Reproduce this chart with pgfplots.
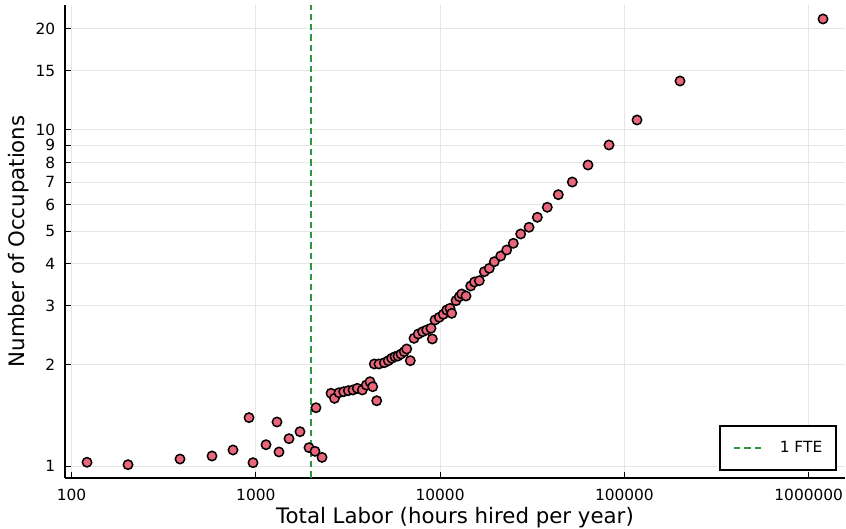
\documentclass[border=0pt]{standalone}
\usepackage{fontspec}
\setmainfont{DejaVu Sans}
\usepackage{pgfplots}
\pgfplotsset{compat=1.18}

\definecolor{dotred}{RGB}{233,102,123}
\definecolor{ftegreen}{RGB}{46,150,62}
\definecolor{gridgray}{RGB}{230,230,230}

\begin{document}
\begin{tikzpicture}
\begin{axis}[
  name=ax,
  scale only axis,
  width=390bp, height=236.35bp,
  xmode=log, ymode=log,
  xmin=92.2, xmax=1.574e6,
  ymin=0.923, ymax=23.55,
  axis x line*=bottom, axis y line*=left,
  axis line style={line width=1bp, black},
  xtick={100,1000,10000,100000,1000000},
  xticklabels={100,1000,10000,100000,1000000},
  ytick={1,2,3,4,5,6,7,8,9,10,15,20},
  yticklabels={1,2,3,4,5,6,7,8,9,10,15,20},
  xminorticks=false, yminorticks=false,
  tick align=inside,
  major tick length=3bp,
  tick style={line width=0.5bp, black},
  grid=major,
  major grid style={line width=0.5bp, gridgray},
  /pgf/number format/assume math mode=true,
  tick label style={font=\fontsize{7.7bp}{9bp}\selectfont},
  xticklabel style={yshift=-2.3bp},
  yticklabel style={xshift=-1.4bp},
  label style={font=\fontsize{10.65bp}{12bp}\selectfont},
  xlabel={Total Labor (hours hired per year)},
  ylabel={Number of Occupations},
  xlabel style={at={(axis description cs:0.5,0)}, anchor=base, yshift=-22.65bp},
  ylabel style={at={(axis description cs:-0.0513,0.5)}, anchor=base},
  legend style={at={(axis description cs:0.9897,0.0142)}, anchor=south east,
    draw=black, line width=0.75bp, fill=white,
    inner xsep=3.5bp, inner ysep=4bp,
    font=\fontsize{7.7bp}{9bp}\selectfont,
    nodes={inner sep=3.5bp}},
  legend cell align=left,
  legend image code/.code={%
    \path (0bp,0bp) (22bp,0bp);
    \draw[#1] (3bp,0bp) -- (18.5bp,0bp);},
  clip=false,
]
\addplot[only marks, mark=*, mark size=2.35bp,
  mark options={fill=dotred, draw=black, line width=0.75bp}, forget plot]
  table {
x y
121.4 1.026
202.6 1.009
387.9 1.049
578.7 1.071
752.1 1.116
918.7 1.393
965.5 1.023
1136 1.157
1303 1.352
1336 1.101
1514 1.206
1737 1.265
1944 1.134
2095 1.106
2121 1.491
2287 1.061
2559 1.646
2673 1.590
2828 1.652
2999 1.664
3177 1.676
3368 1.684
3554 1.703
3784 1.684
3978 1.742
4166 1.782
4309 1.722
4529 1.564
4396 2.012
4661 2.012
4981 2.030
5235 2.058
5462 2.092
5692 2.115
5909 2.125
6134 2.154
6393 2.189
6589 2.230
6892 2.058
7217 2.399
7614 2.471
8043 2.510
8458 2.540
8924 2.570
9071 2.388
9382 2.720
9901 2.771
10409 2.828
10860 2.912
11317 2.946
11561 2.847
12200 3.105
12716 3.191
13102 3.251
13822 3.206
14656 3.434
15370 3.529
16322 3.561
17373 3.787
18493 3.876
19685 4.055
21326 4.217
22983 4.394
24959 4.600
27369 4.904
30369 5.134
33691 5.498
38157 5.889
43787 6.420
52150 7.002
63460 7.867
82490 9.024
117060 10.71
200300 13.99
1195600 21.40
};
% one full-time equivalent: 2000 hours a year
\addplot[ftegreen, line width=1bp, dash pattern=on 3.2bp off 2bp]
  coordinates {(2000,0.923) (2000,23.55)};
\addlegendentry{1 FTE}
\end{axis}
\pgfresetboundingbox
\path[use as bounding box] ([shift={(-32.5bp,-25.65bp)}]ax.south west)
  rectangle ([shift={(0.5bp,2.5bp)}]ax.north east);
\end{tikzpicture}
\end{document}
